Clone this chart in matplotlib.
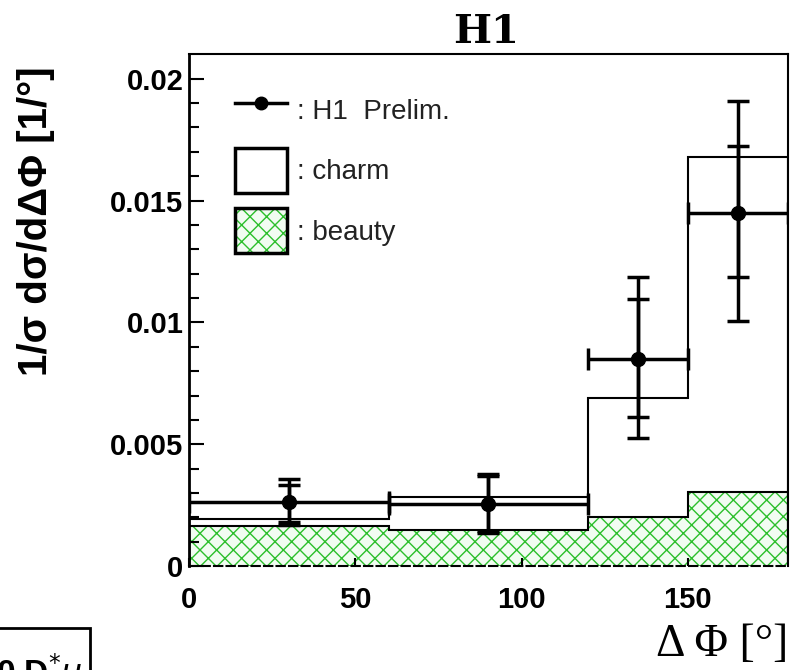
import numpy as np
import matplotlib
matplotlib.use("Agg")
import matplotlib.pyplot as plt
from matplotlib.lines import Line2D
from matplotlib.patches import Patch, Rectangle
from matplotlib.legend_handler import HandlerTuple

# bin edges in delta phi [deg]
edges = [0, 60, 120, 150, 180]

# MC predictions (normalised)
charm = [0.00193, 0.00284, 0.0069, 0.0168]
beauty = [0.00165, 0.00148, 0.0020, 0.00305]

# H1 preliminary data
x = [30, 90, 135, 165]
xerr = [30, 30, 15, 15]
y = [0.00263, 0.00255, 0.0085, 0.0145]
stat_lo = [0.00083, 0.0011, 0.0024, 0.00265]
stat_hi = [0.0007, 0.00115, 0.00245, 0.00274]
tot_lo = [0.00093, 0.00119, 0.00323, 0.00446]
tot_hi = [0.00095, 0.00125, 0.00335, 0.0046]

plt.rcParams['hatch.linewidth'] = 1.0
plt.rcParams['font.family'] = ['Liberation Sans', 'DejaVu Sans']

fig = plt.figure(figsize=(7.94, 6.7), dpi=100)
ax = fig.add_axes([0.238, 0.155, 0.754, 0.764])

hatch_green = '#2cbf2c'
ax.stairs(beauty, edges, fill=True, hatch='xx', facecolor='#f2fcf2',
          edgecolor=hatch_green, linewidth=0, zorder=1)
ax.stairs(beauty, edges, color='black', linewidth=1.5, zorder=2)
ax.stairs(charm, edges, color='black', linewidth=1.5, zorder=2)

ax.errorbar(x, y, xerr=xerr, yerr=[tot_lo, tot_hi], fmt='o', color='black',
            ms=10, elinewidth=2.5, capsize=8, capthick=2.5, zorder=4)
ax.errorbar(x, y, yerr=[stat_lo, stat_hi], fmt='none', ecolor='black',
            elinewidth=2.5, capsize=8, capthick=2.5, zorder=4)

ax.set_xlim(0, 180)
ax.set_ylim(0, 0.021)
ax.set_xticks([0, 50, 100, 150])
ax.set_xticklabels(['0', '50', '100', '150'])
ax.set_yticks([0, 0.005, 0.01, 0.015, 0.02])
ax.set_yticklabels(['0', '0.005', '0.01', '0.015', '0.02'])
ax.set_yticks(np.arange(0, 0.0205, 0.001), minor=True)

ax.tick_params(axis='both', which='both', direction='in', width=1.5)
ax.tick_params(axis='y', which='major', length=11, pad=4)
ax.tick_params(axis='y', which='minor', length=7)
ax.tick_params(axis='x', which='major', length=6, pad=14)
for lab in ax.get_xticklabels() + ax.get_yticklabels():
    lab.set_fontsize(21)
    lab.set_fontweight('bold')

for s in ax.spines.values():
    s.set_linewidth(1.5)
ax.spines['left'].set_linewidth(2)
ax.spines['bottom'].set_linestyle((0, (4, 2)))

h_data = Line2D([], [], color='black', lw=2.5, marker='o', ms=9)
h_charm = Patch(facecolor='white', edgecolor='black', linewidth=2.5)
h_beauty = (Patch(facecolor='#f2fcf2', edgecolor=hatch_green, hatch='xx', linewidth=0),
            Patch(fill=False, edgecolor='black', linewidth=2.5))
leg = ax.legend([h_data, h_charm, h_beauty], [': H1  Prelim.', ': charm', ': beauty'],
                handler_map={tuple: HandlerTuple(ndivide=1, pad=0)},
                loc='upper left', bbox_to_anchor=(0.077, 0.935), frameon=False,
                fontsize=20, handlelength=1.87, handleheight=2.12,
                labelspacing=0.55, handletextpad=0.36, borderaxespad=0,
                borderpad=0)
for t in leg.get_texts():
    t.set_color('#222222')

fig.text(0.612, 0.952, 'H1', fontsize=29, fontweight='bold', ha='center',
         va='center', family='DejaVu Serif')
fig.text(0.993, 0.037, 'Δ Φ [°]', fontsize=33, ha='right', va='center',
         family='Liberation Serif')
fig.text(0.045, 0.67, '1/σ dσ/dΔΦ [1/°]', fontsize=29, fontweight='bold',
         rotation=90, ha='center', va='center')

# partially visible neighbouring panel in the lower left corner
fig.patches.append(Rectangle((-0.01, -0.05), 0.123, 0.113, transform=fig.transFigure,
                             fill=False, edgecolor='black', linewidth=2))
fig.text(-0.005, -0.035, r'0 D$^{*}\mu$', fontsize=24, fontweight='bold',
         ha='left', va='bottom')

fig.savefig('out.png', dpi=100)
